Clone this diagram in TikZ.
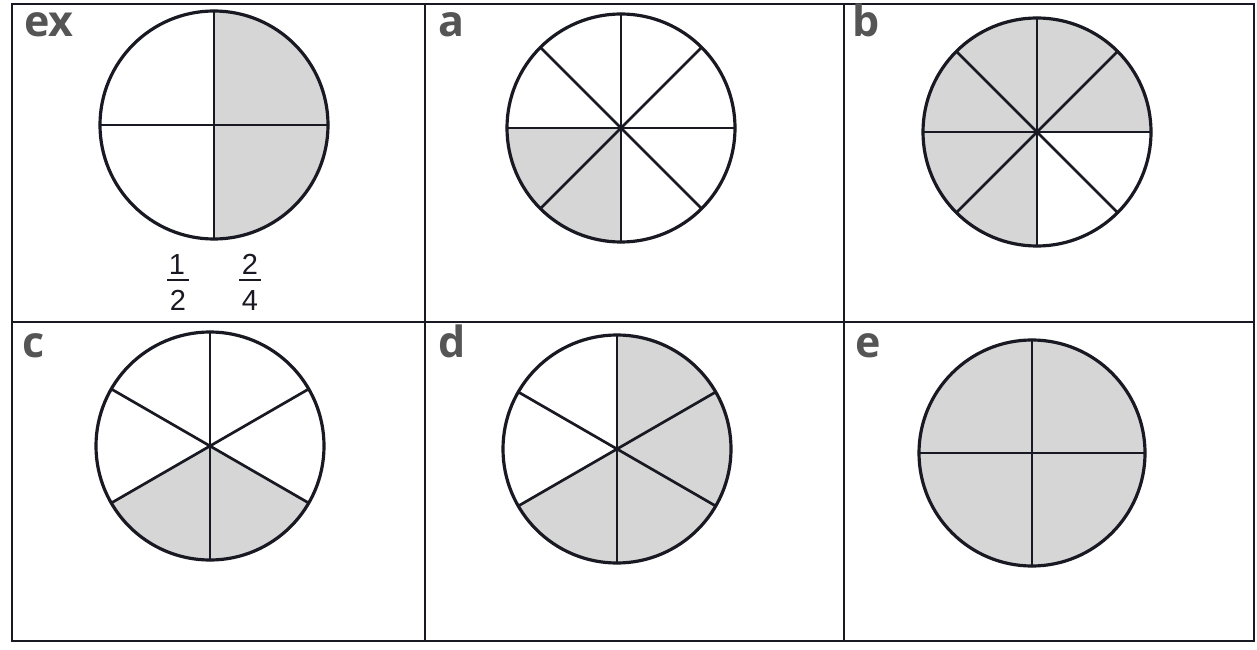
\documentclass[tikz,border=0pt]{standalone}
\usepackage{fontspec}
\setmainfont{Open Sans}
\newfontfamily\fracfont{Liberation Sans}
\definecolor{shadegray}{RGB}{214,214,214}
\definecolor{ink}{RGB}{25,25,35}
\definecolor{labelgray}{RGB}{85,85,85}
\begin{document}
\begin{tikzpicture}[x=1pt,y=1pt,
  gridline/.style={line width=1.8pt, draw=ink},
  rim/.style={line width=3.2pt, draw=ink},
  spoke/.style={line width=2.7pt, draw=ink, line cap=round},
  shaded/.style={fill=shadegray},
  lbl/.style={anchor=base west, inner sep=0pt, font=\fontsize{43}{43}\selectfont\bfseries, text=labelgray},
  fracnum/.style={anchor=base, inner sep=0pt, font=\fracfont\fontsize{29}{29}\selectfont, text=ink},
  fracbar/.style={line width=1.7pt, draw=ink}]

\useasboundingbox (0,0) rectangle (1257,649);
\fill[white] (0,0) rectangle (1257,649);

% table grid
\draw[gridline] (12,8) rectangle (1254,645);
\draw[gridline] (12,327) -- (1254,327);
\draw[gridline] (425,8) -- (425,645);
\draw[gridline] (844,8) -- (844,645);

% labels
\node[lbl] (lex) at (24,612) {ex};
\node[lbl] (la) at (438,612) {a};
\node[lbl] (lb) at (852,612) {b};
\node[lbl] (lc) at (22,292) {c};
\node[lbl] (ld) at (438,292) {d};
\node[lbl] (le) at (855,292) {e};

% centres
\coordinate (cex) at (214,524);
\coordinate (ca) at (621,521);
\coordinate (cb) at (1037,517);
\coordinate (cc) at (210,203);
\coordinate (cd) at (617,200);
\coordinate (ce) at (1032,196);

% ex: quarters, right half shaded
\foreach \s in {-90,0}
  \fill[shaded] (cex) -- ++(\s:114) arc[start angle=\s, delta angle=90, radius=114] -- cycle;
\foreach \t in {0,90,180,270} \draw[spoke] (cex) -- ++(\t:114);
\draw[rim] (cex) circle[radius=114];

% a: eighths, 2 shaded
\foreach \s in {180,225}
  \fill[shaded] (ca) -- ++(\s:114) arc[start angle=\s, delta angle=45, radius=114] -- cycle;
\foreach \t in {0,45,...,315} \draw[spoke] (ca) -- ++(\t:114);
\draw[rim] (ca) circle[radius=114];

% b: eighths, 6 shaded
\foreach \s in {0,45,90,135,180,225}
  \fill[shaded] (cb) -- ++(\s:114) arc[start angle=\s, delta angle=45, radius=114] -- cycle;
\foreach \t in {0,45,...,315} \draw[spoke] (cb) -- ++(\t:114);
\draw[rim] (cb) circle[radius=114];

% c: sixths, 2 shaded
\foreach \s in {210,270}
  \fill[shaded] (cc) -- ++(\s:114) arc[start angle=\s, delta angle=60, radius=114] -- cycle;
\foreach \t in {30,90,...,330} \draw[spoke] (cc) -- ++(\t:114);
\draw[rim] (cc) circle[radius=114];

% d: sixths, 4 shaded
\foreach \s in {210,270,330,390}
  \fill[shaded] (cd) -- ++(\s:114) arc[start angle=\s, delta angle=60, radius=114] -- cycle;
\foreach \t in {30,90,...,330} \draw[spoke] (cd) -- ++(\t:114);
\draw[rim] (cd) circle[radius=114];

% e: quarters, all shaded
\fill[shaded] (ce) circle[radius=113];
\foreach \t in {0,90,180,270} \draw[spoke] (ce) -- ++(\t:113);
\draw[rim] (ce) circle[radius=113];

% fractions under ex
\node[fracnum] (n1) at (177,375) {1};
\draw[fracbar] (167,369) -- (189,369);
\node[fracnum] (d1) at (178,339) {2};
\node[fracnum] (n2) at (250,375) {2};
\draw[fracbar] (239,369) -- (261,369);
\node[fracnum] (d2) at (250,339) {4};
\end{tikzpicture}
\end{document}
